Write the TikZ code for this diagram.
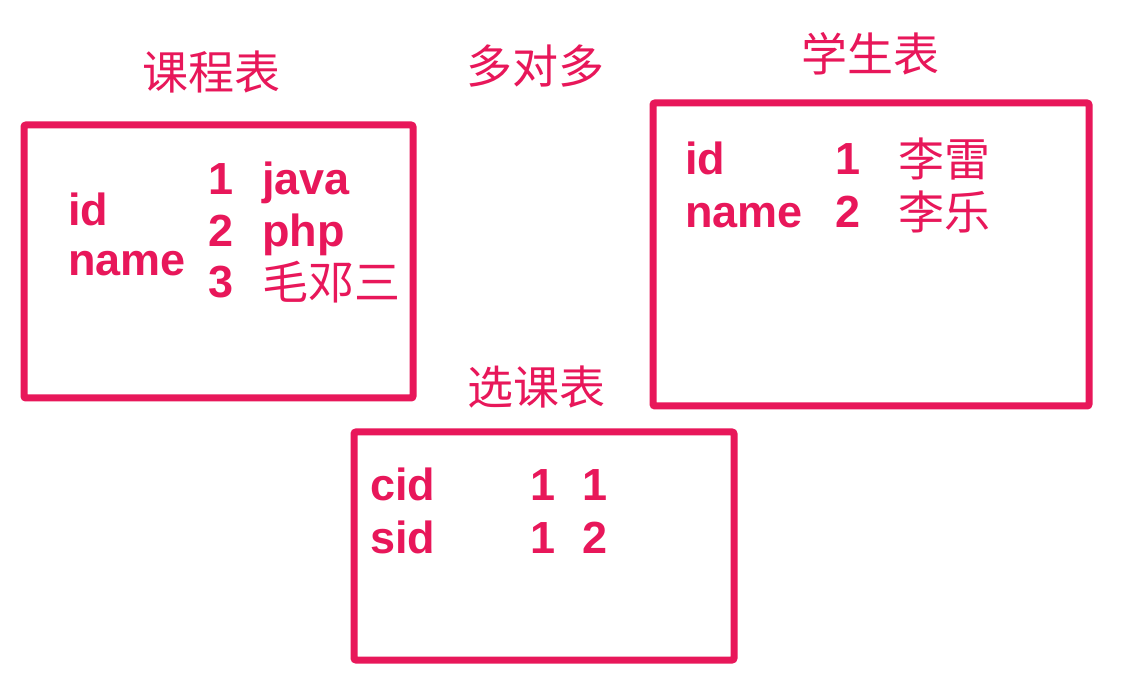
\documentclass[tikz,border=0pt]{standalone}
\usepackage{fontspec}
\setmainfont{Liberation Sans}
\newfontfamily\cjk{Noto Sans CJK SC}
\definecolor{rose}{HTML}{E8175A}
\begin{document}
\begin{tikzpicture}[x=1pt,y=-1pt,
  tbl/.style={draw=rose,line width=7pt,rounded corners=2pt},
  lat/.style={text=rose,font=\fontsize{45}{45}\selectfont\bfseries,inner sep=0pt,anchor=base west},
  han/.style={text=rose,font=\fontsize{46}{46}\selectfont\cjk,inner sep=0pt,anchor=base west},
  ttl/.style={text=rose,font=\fontsize{46}{46}\selectfont\cjk,inner sep=0pt,anchor=base}]
\useasboundingbox[fill=white] (0,0) rectangle (1130,692);
% boxes
\draw[tbl] (24,125) rectangle (413,398);
\draw[tbl] (653,103) rectangle (1089,406);
\draw[tbl] (354,432) rectangle (734,660);
% titles
\node[ttl] (t1) at (211,90) {课程表};
\node[ttl] (t2) at (535,84) {多对多};
\node[ttl] (t3) at (870,72) {学生表};
\node[ttl] (t4) at (536,405) {选课表};
% course table
\node[lat] (c1) at (68,226) {id};
\node[lat] (c2) at (68,276) {name};
\node[lat] (c3) at (208,195) {1};
\node[lat] (c4) at (262,195) {java};
\node[lat] (c5) at (208,247) {2};
\node[lat] (c6) at (262,247) {php};
\node[lat] (c7) at (208,298) {3};
\node[han] (c8) at (262,300) {毛邓三};
% student table
\node[lat] (s1) at (685,175) {id};
\node[lat] (s2) at (685,228) {name};
\node[lat] (s3) at (835,175) {1};
\node[han] (s4) at (898,177) {李雷};
\node[lat] (s5) at (835,228) {2};
\node[han] (s6) at (898,230) {李乐};
% selection table
\node[lat] (x1) at (370,500) {cid};
\node[lat] (x2) at (370,553) {sid};
\node[lat] (x3) at (530,500) {1};
\node[lat] (x4) at (582,500) {1};
\node[lat] (x5) at (530,553) {1};
\node[lat] (x6) at (582,553) {2};
\end{tikzpicture}
\end{document}
